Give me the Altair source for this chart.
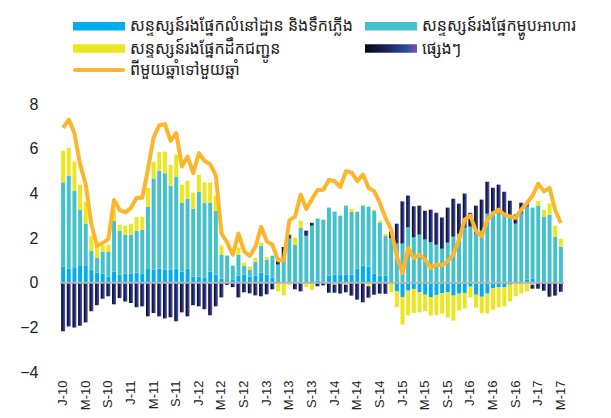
import altair as alt
import pandas as pd

tick_labels = ["J-10", "M-10", "S-10", "J-11", "M-11", "S-11", "J-12", "M-12", "S-12",
               "J-13", "M-13", "S-13", "J-14", "M-14", "S-14", "J-15", "M-15", "S-15",
               "J-16", "M-16", "S-16", "J-17", "M-17"]

housing = [0.73, 0.63, 0.69, 0.78, 0.78, 0.58, 0.45, 0.40, 0.28, 0.49,
           0.36, 0.40, 0.40, 0.45, 0.40, 0.61, 0.58, 0.63, 0.58, 0.58,
           0.63, 0.49, 0.63, 0.27, 0.27, 0.22, 0.49, 0.36, 0.18, 0.02,
           0.13, 0.31, 0.36, 0.27, 0.31, 0.45, 0.36, 0.22, 0.0, 0.0,
           0.0, 0.0, 0.0, 0.0, -0.05, 0.09, 0.0, 0.31, 0.36, 0.36,
           0.36, 0.36, 0.63, 0.76, 0.72, 0.40, 0.31, 0.31, 0.0, -0.39,
           -0.64, -0.36, -0.28, -0.43, -0.54, -0.66, -0.55, -0.47, -0.43, -0.58,
           -0.49, -0.46, -0.18, -0.54, -0.63, -0.49, -0.25, -0.21, -0.21, -0.09,
           0.0, 0.0, 0.13, 0.18, 0.0, 0.0, 0.0, 0.0, -0.05]

food = [3.76, 4.16, 3.43, 2.49, 1.86, 0.85, 0.67, 0.99, 1.11, 2.29,
        1.97, 1.75, 1.75, 1.88, 1.97, 2.79, 4.08, 4.38, 4.32, 3.76,
        4.12, 3.09, 3.13, 3.04, 3.80, 3.36, 3.09, 2.86, 1.07, 1.19,
        0.63, 0.94, 0.40, 0.31, 0.63, 1.21, 0.67, 0.99, 0.81, 1.00,
        1.97, 1.70, 2.46, 2.10, 2.55, 2.78, 2.82, 3.05, 2.82, 2.64,
        3.09, 2.82, 2.55, 2.69, 2.68, 2.82, 2.38, 1.79, 2.00, 1.75,
        1.75, 2.48, 2.03, 2.15, 1.93, 1.81, 1.70, 1.52, 1.79, 2.06,
        2.19, 2.45, 2.51, 2.20, 2.33, 3.09, 3.18, 3.18, 3.00, 2.96,
        2.64, 3.09, 3.27, 3.18, 3.45, 2.96, 3.04, 2.06, 1.61]

transport = [1.42, 1.25, 1.30, 1.12, 0.99, 0.67, 0.51, 0.28, 0.31, 0.49,
             0.27, 0.40, 0.49, 0.61, 0.57, 0.85, 0.76, 0.83, 0.97, 0.94,
             0.98, 0.81, 0.81, 0.72, 0.77, 0.90, 0.90, 0.68, 0.41, 0.0,
             0.0, 0.32, 0.14, 0.14, 0.18, 0.13, 0.13, 0.0, -0.39, -0.57,
             -0.12, 0.31, 0.32, -0.20, -0.27, 0.0, 0.0, 0.0, -0.09, 0.0,
             -0.09, 0.13, 0.0, 0.04, -0.16, 0.05, 0.09, 0.09, -0.43, -0.70,
             -1.24, -1.10, -1.08, -0.90, -0.74, -0.82, -0.90, -0.92, -1.13, -1.12,
             -0.76, -0.70, -0.48, -0.58, -0.74, -0.88, -0.96, -0.89, -0.85, -0.75,
             -0.61, -0.49, -0.39, -0.09, 0.22, 0.31, 0.50, 0.49, 0.36]

others = [-2.18, -1.96, -2.01, -1.93, -1.78, -1.28, -1.01, -0.72, -0.61, -0.97,
          -0.69, -0.84, -0.91, -1.10, -1.06, -1.51, -1.36, -1.51, -1.60, -1.55,
          -1.73, -1.33, -1.51, -1.01, -1.06, -1.19, -1.46, -1.06, -0.66, -0.10,
          -0.20, -0.66, -0.43, -0.48, -0.57, -0.61, -0.52, -0.30, 0.30, 0.60,
          0.18, -0.30, -0.39, 0.23, 0.13, -0.16, -0.12, -0.45, -0.36, -0.49,
          -0.34, -0.58, -0.76, -0.88, -0.51, -0.54, -0.49, -0.50, 0.30, 0.89,
          1.89, 1.42, 1.39, 1.30, 1.29, 1.46, 1.43, 1.40, 1.57, 1.70,
          1.35, 1.54, 0.62, 1.25, 1.39, 1.43, 1.07, 1.21, 1.07, 0.71,
          0.41, 0.49, 0.15, -0.18, -0.27, -0.36, -0.63, -0.58, -0.36]

yoy = [6.93, 7.30, 6.70, 5.30, 4.40, 2.60, 1.65, 1.78, 1.95, 3.70,
       3.25, 3.15, 3.35, 3.80, 3.80, 5.10, 6.50, 7.05, 7.10, 6.35,
       6.70, 5.20, 5.65, 4.90, 5.80, 5.45, 5.30, 4.80, 2.20, 1.80,
       1.25, 2.20, 1.40, 1.20, 1.60, 2.50, 1.85, 1.70, 1.00, 1.00,
       2.80, 2.95, 3.95, 3.30, 3.75, 4.15, 4.16, 4.61, 4.54, 4.28,
       4.99, 4.94, 4.54, 4.84, 4.24, 4.09, 3.57, 2.90, 2.37, 1.18,
       0.43, 1.55, 1.10, 1.25, 1.03, 0.66, 0.81, 0.78, 0.96, 1.25,
       1.93, 2.82, 3.00, 2.30, 2.07, 2.82, 3.09, 3.27, 3.04, 2.97,
       2.90, 3.27, 3.57, 3.90, 4.43, 4.09, 4.24, 3.24, 2.67]

series_names = ["សន្ទស្សន៍រងផ្នែកលំនៅដ្ឋាន និងទឹកភ្លើង",
                "សន្ទស្សន៍រងផ្នែកម្ហូបអាហារ",
                "សន្ទស្សន៍រងផ្នែកដឹកជញ្ជូន",
                "ផ្សេងៗ"]
line_name = "ពីមួយឆ្នាំទៅមួយឆ្នាំ"

C_HOUSING = "#00AEEF"
C_FOOD = "#44C1CA"
C_TRANSPORT = "#EDE51E"
C_LINE = "#FDB62C"
OTHERS_GRAD = alt.Gradient(
    gradient="linear",
    stops=[alt.GradientStop(color="#05050F", offset=0),
           alt.GradientStop(color="#1C2766", offset=0.45),
           alt.GradientStop(color="#2E4C9E", offset=0.8),
           alt.GradientStop(color="#8A4CA8", offset=1)],
    x1=0, x2=1, y1=0, y2=0)

n = len(yoy)
rows = []
for k, vals in enumerate([housing, food, transport, others]):
    for i in range(n):
        rows.append({"idx": i, "ord": k, "value": vals[i]})
df = pd.DataFrame(rows)
df_line = pd.DataFrame({"idx": list(range(n)), "yoy": yoy})

label_expr = "[" + ",".join("'%s'" % t for t in tick_labels) + "][datum.value / 4]"

x_enc = alt.X("idx:O",
              scale=alt.Scale(paddingInner=0.3, paddingOuter=0.2),
              axis=alt.Axis(values=list(range(0, n, 4)), labelExpr=label_expr,
                            labelAngle=270, domain=False, ticks=False,
                            labelPadding=8, labelFontSize=13, labelColor="#222222",
                            labelFont="Liberation Sans", labelOverlap=False, title=None))
y_scale = alt.Scale(domain=[-4, 8], nice=False, zero=False)
y_axis = alt.Axis(values=[-4, -2, 0, 2, 4, 6, 8], domain=False, ticks=False, grid=False,
                  labelFontSize=16, labelPadding=22, labelColor="#222222",
                  labelFont="Liberation Sans", title=None)

base = alt.Chart(df).transform_stack(
    stack="value", groupby=["idx"],
    sort=[alt.SortField("ord", order="ascending")], as_=["v0", "v1"])

bars = base.transform_filter("datum.ord < 3").mark_bar().encode(
    x=x_enc,
    y=alt.Y("v0:Q", scale=y_scale, axis=y_axis),
    y2="v1:Q",
    color=alt.Color("ord:N", scale=alt.Scale(domain=[0, 1, 2],
                                             range=[C_HOUSING, C_FOOD, C_TRANSPORT]),
                    legend=None))

bars_others = base.transform_filter("datum.ord == 3").mark_bar(color=OTHERS_GRAD).encode(
    x="idx:O", y="v0:Q", y2="v1:Q")

zero = alt.Chart(pd.DataFrame({"z": [0]})).mark_rule(color="#B5B5B5", strokeWidth=2).encode(
    y="z:Q")

line = alt.Chart(df_line).mark_line(color=C_LINE, strokeWidth=4, strokeJoin="round").encode(
    x="idx:O", y="yoy:Q")

# legend (drawn above the plot area)
one = pd.DataFrame({"a": [0]})
legend_layers = []
cols_x = [13, 305]
rows_y = [-77.7, -55.5, -34]
items = [(series_names[0], C_HOUSING, 0, 0), (series_names[1], C_FOOD, 1, 0),
         (series_names[2], C_TRANSPORT, 0, 1), (series_names[3], OTHERS_GRAD, 1, 1)]
FONT = "Noto Sans Khmer, Khmer OS, Noto Sans, sans-serif"
for label, col, cx, ry in items:
    x0 = cols_x[cx]
    yc = rows_y[ry]
    legend_layers.append(alt.Chart(one).mark_rect(color=col).encode(
        x=alt.value(x0), x2=alt.value(x0 + 52),
        y=alt.value(yc - 4.3), y2=alt.value(yc + 4.3)))
    legend_layers.append(alt.Chart(one).mark_text(
        text=label, align="left", baseline="middle", fontSize=16, color="#222222",
        font=FONT).encode(x=alt.value(x0 + 57), y=alt.value(yc)))
legend_layers.append(alt.Chart(one).mark_rule(color=C_LINE, strokeWidth=4, strokeCap="round").encode(
    x=alt.value(15), x2=alt.value(63), y=alt.value(rows_y[2])))
legend_layers.append(alt.Chart(one).mark_text(
    text=line_name, align="left", baseline="middle", fontSize=16, color="#222222",
    font=FONT).encode(x=alt.value(70), y=alt.value(rows_y[2])))

chart = alt.layer(bars, bars_others, zero, line, *legend_layers).properties(
    width=504, height=268,
    autosize=alt.AutoSizeParams(type="none"),
    padding={"left": 52, "top": 96, "right": 30, "bottom": 40},
).configure_view(stroke=None)

chart.save("out.html", embed_options={"renderer": "svg", "actions": False})
